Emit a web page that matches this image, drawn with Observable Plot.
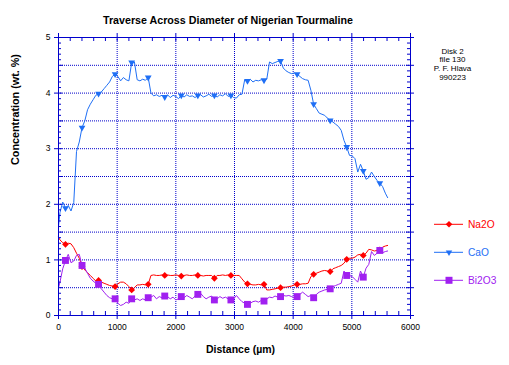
<!DOCTYPE html>
<html><head><meta charset="utf-8">
<script src="https://cdn.jsdelivr.net/npm/d3@7"></script>
<script src="https://cdn.jsdelivr.net/npm/@observablehq/plot@0.6"></script>
<style>
html,body{margin:0;padding:0;background:#fff;}
#chart{position:relative;width:509px;height:365px;font-family:Arial,"Liberation Sans",sans-serif;}
#chart svg{position:absolute;left:0;top:0;}
</style></head><body><div id="chart"></div>
<script>
// ---- data ----
const distance = [
  0,25,72,119,166,213,260,307,354,401,
  448,495,542,589,636,683,730,777,824,871,
  918,965,1012,1059,1106,1153,1200,1247,1294,1341,
  1388,1435,1482,1529,1576,1623,1670,1717,1764,1811,
  1858,1905,1952,1999,2046,2093,2140,2187,2234,2281,
  2328,2375,2422,2469,2516,2563,2610,2657,2704,2751,
  2798,2845,2892,2939,2986,3033,3080,3127,3174,3221,
  3268,3315,3362,3409,3456,3503,3550,3597,3644,3691,
  3738,3785,3832,3879,3926,3973,4020,4067,4114,4161,
  4208,4255,4302,4349,4396,4443,4490,4537,4584,4631,
  4678,4725,4772,4819,4866,4913,4960,5007,5054,5101,
  5148,5195,5242,5289,5336,5383,5430,5477,5524,5571,
  5610];
const na2o = [
  1.41,1.36,1.31,1.28,1.3,1.29,1.22,1.12,1.03,0.88,
  0.82,0.77,0.72,0.67,0.62,0.63,0.6,0.58,0.56,0.54,
  0.53,0.52,0.57,0.6,0.6,0.57,0.52,0.46,0.5,0.55,
  0.55,0.56,0.55,0.56,0.72,0.73,0.72,0.72,0.73,0.72,
  0.73,0.72,0.72,0.73,0.72,0.71,0.72,0.73,0.72,0.72,
  0.73,0.72,0.72,0.71,0.72,0.72,0.72,0.67,0.72,0.72,
  0.73,0.72,0.73,0.72,0.72,0.72,0.72,0.66,0.6,0.57,
  0.56,0.55,0.55,0.56,0.55,0.56,0.46,0.46,0.47,0.48,
  0.49,0.5,0.51,0.51,0.52,0.53,0.55,0.56,0.56,0.57,
  0.57,0.58,0.7,0.74,0.76,0.78,0.8,0.81,0.8,0.79,
  0.84,0.86,0.88,0.9,0.94,1.01,1.03,1.03,1.05,1.09,
  1.1,1.08,1.12,1.19,1.18,1.16,1.17,1.18,1.23,1.25,
  1.26];
const cao = [
  1.6,1.85,2.04,1.93,1.98,1.88,2.03,2.95,3.12,3.38,
  3.5,3.7,3.8,3.88,3.96,3.99,4.02,4.08,4.14,4.2,
  4.3,4.34,4.3,4.22,4.28,4.24,4.22,4.55,4.56,4.24,
  4.22,4.25,4.23,4.28,4.0,3.95,3.97,3.94,3.96,3.93,
  3.97,3.92,3.96,3.94,3.9,3.96,3.93,3.97,3.94,3.95,
  3.92,3.96,3.97,3.93,3.95,3.98,3.94,3.96,3.93,3.97,
  3.95,3.99,3.94,3.96,3.92,3.91,3.97,3.98,4.24,4.22,
  4.25,4.2,4.23,4.22,4.24,4.23,4.25,4.56,4.53,4.55,
  4.57,4.58,4.45,4.4,4.37,4.35,4.36,4.34,4.3,4.26,
  4.24,4.23,4.05,3.8,3.72,3.64,3.62,3.6,3.55,3.51,
  3.48,3.44,3.4,3.33,3.15,3.03,2.88,2.87,2.82,2.58,
  2.72,2.6,2.45,2.48,2.58,2.5,2.43,2.38,2.32,2.2,
  2.12];
const bi2o3 = [
  0.5,0.6,0.84,0.99,1.1,0.95,0.98,1.08,1.1,0.9,
  0.85,0.76,0.67,0.62,0.58,0.56,0.48,0.42,0.36,0.32,
  0.3,0.3,0.22,0.18,0.2,0.24,0.22,0.3,0.28,0.3,
  0.27,0.3,0.28,0.32,0.33,0.36,0.3,0.34,0.32,0.35,
  0.34,0.3,0.33,0.28,0.3,0.34,0.32,0.36,0.33,0.3,
  0.35,0.38,0.4,0.34,0.3,0.33,0.35,0.28,0.3,0.34,
  0.31,0.33,0.3,0.28,0.3,0.36,0.3,0.25,0.22,0.2,
  0.22,0.25,0.26,0.24,0.27,0.26,0.3,0.33,0.32,0.35,
  0.33,0.34,0.36,0.35,0.36,0.34,0.32,0.34,0.38,0.42,
  0.38,0.34,0.36,0.32,0.38,0.42,0.44,0.46,0.47,0.48,
  0.52,0.54,0.56,0.58,0.8,0.72,0.72,0.7,0.65,0.6,
  0.8,0.69,0.85,0.92,1.15,1.08,1.12,1.17,1.13,1.15,
  1.16];
const seriesNames = ["Na2O", "CaO", "Bi2O3"];
const seriesColors = ["#ff0000", "#1f6ff5", "#a020f0"];
const xTicks = [0, 1000, 2000, 3000, 4000, 5000, 6000];
const yTicks = [0, 1, 2, 3, 4, 5];
const titleText = "Traverse Across Diameter of Nigerian Tourmaline";
const xLabel = "Distance (µm)";
const yLabel = "Concentration (wt. %)";
const noteLines = ["Disk 2", "file 130", "P. F. Hlava", "990223"];

// ---- build table ----
const seriesValues = [na2o, cao, bi2o3];
const rows = [];
seriesNames.forEach((name, s) => {
  distance.forEach((d, i) => rows.push({series: name, x: d, y: seriesValues[s][i], i}));
});
const isMarker = d => d.i % 6 === 3;

// ---- layout ----
const W = 509, H = 365, mL = 58, mR = 99, mT = 37, mB = 50;
const fw = W - mL - mR, fh = H - mT - mB;
const axisColor = "#0000cc";
const minorX = d3.range(200, 6000, 200).filter(v => v % 1000 !== 0);
const halfY = d3.range(0.5, 5, 1);
const allHalfY = d3.range(0, 5.01, 0.5);
const minorY = d3.range(1, 50).filter(v => v % 5 !== 0).map(v => v / 10);
const gridX = xTicks.slice(1, -1);
const gridY = d3.range(0.5, 5, 0.5);

const fontFam = "Arial, 'Liberation Sans', sans-serif";

const chart = Plot.plot({
  width: W, height: H,
  marginLeft: mL, marginRight: mR, marginTop: mT, marginBottom: mB,
  style: {fontFamily: fontFam, background: "white", overflow: "visible"},
  x: {domain: [0, 6000], axis: null},
  y: {domain: [0, 5], axis: null},
  color: {domain: seriesNames, range: seriesColors},
  marks: [
    Plot.ruleX(gridX, {stroke: axisColor, strokeDasharray: "1,1", strokeWidth: 1}),
    Plot.ruleY(gridY, {stroke: axisColor, strokeDasharray: "1,1", strokeWidth: 1}),
    // data lines
    Plot.line(rows, {x: "x", y: "y", z: "series", stroke: "series", strokeWidth: 1}),
    Plot.dot(rows.filter(d => d.series === "Na2O" && isMarker(d)), {x: "x", y: "y", symbol: "square", rotate: 45, r: 2.7, fill: seriesColors[0], stroke: "none"}),
    Plot.dot(rows.filter(d => d.series === "CaO" && isMarker(d)), {x: "x", y: "y", symbol: "triangle", rotate: 180, r: 2.5, fill: seriesColors[1], stroke: "none"}),
    Plot.dot(rows.filter(d => d.series === "Bi2O3" && isMarker(d)), {x: "x", y: "y", symbol: "square", r: 3.9, fill: seriesColors[2], stroke: "none"}),
    // frame and ticks
    Plot.frame({stroke: axisColor, strokeWidth: 1}),
    Plot.ruleX(xTicks, {insetTop: fh - 4, insetBottom: -4, stroke: axisColor}),
    Plot.ruleX(xTicks, {insetTop: -4, insetBottom: fh - 4, stroke: axisColor}),
    Plot.ruleX(minorX, {insetTop: fh - 4, stroke: axisColor}),
    Plot.ruleX(minorX, {insetBottom: fh - 4, stroke: axisColor}),
    Plot.ruleY(yTicks, {insetLeft: -4, insetRight: fw - 4, stroke: axisColor}),
    Plot.ruleY(halfY, {insetRight: fw - 5, stroke: axisColor}),
    Plot.ruleY(allHalfY, {insetLeft: fw - 4, insetRight: -4, stroke: axisColor}),
    Plot.ruleY(minorY, {insetRight: fw - 3, stroke: axisColor}),
    Plot.ruleY(minorY, {insetLeft: fw - 3, stroke: axisColor}),
    // tick labels
    Plot.text(xTicks, {x: d => d, frameAnchor: "bottom", dy: 8, lineAnchor: "top", fontSize: 8.5, fill: "black", text: d => String(d)}),
    Plot.text(yTicks, {y: d => d, frameAnchor: "left", dx: -8, textAnchor: "end", fontSize: 8.5, fill: "black", text: d => String(d)}),
    // titles
    Plot.text([titleText], {frameAnchor: "top", dx: -6.5, dy: -21, fontSize: 10.7, fontWeight: "bold", fill: "black"}),
    Plot.text([xLabel], {frameAnchor: "bottom", dx: 6, dy: 37, fontSize: 10.5, fontWeight: "bold", fill: "black"}),
    Plot.text([yLabel], {frameAnchor: "left", dx: -43, dy: -11.5, rotate: -90, fontSize: 10.8, fontWeight: "bold", fill: "black"}),
    Plot.text([noteLines.join("\n")], {frameAnchor: "top-right", dx: 42, dy: 10, lineAnchor: "top", textAnchor: "middle", lineHeight: 1.09, fontSize: 8, fill: "black"})
  ]
});
document.getElementById("chart").appendChild(chart);

// ---- legend ----
const legendY0 = 224.3, legendStep = 28;
const leg = d3.select("#chart").append("svg").attr("width", W).attr("height", H);
const symbolTypes = [d3.symbolSquare, d3.symbolTriangle, d3.symbolSquare];
const symbolSizes = [22, 18, 49];
const symbolRot = [45, 180, 0];
seriesNames.forEach((name, k) => {
  const y = legendY0 + k * legendStep;
  const g = leg.append("g");
  g.append("line").attr("x1", 434).attr("x2", 463).attr("y1", y).attr("y2", y).attr("stroke", seriesColors[k]).attr("stroke-width", 1);
  g.append("path").attr("d", d3.symbol(symbolTypes[k], symbolSizes[k])()).attr("transform", `translate(449,${y}) rotate(${symbolRot[k]})`).attr("fill", seriesColors[k]);
  g.append("text").attr("x", 468).attr("y", y).attr("dy", "0.35em").attr("font-size", 10.2).attr("font-family", fontFam).attr("fill", seriesColors[k]).text(name);
});
</script>
</body></html>
